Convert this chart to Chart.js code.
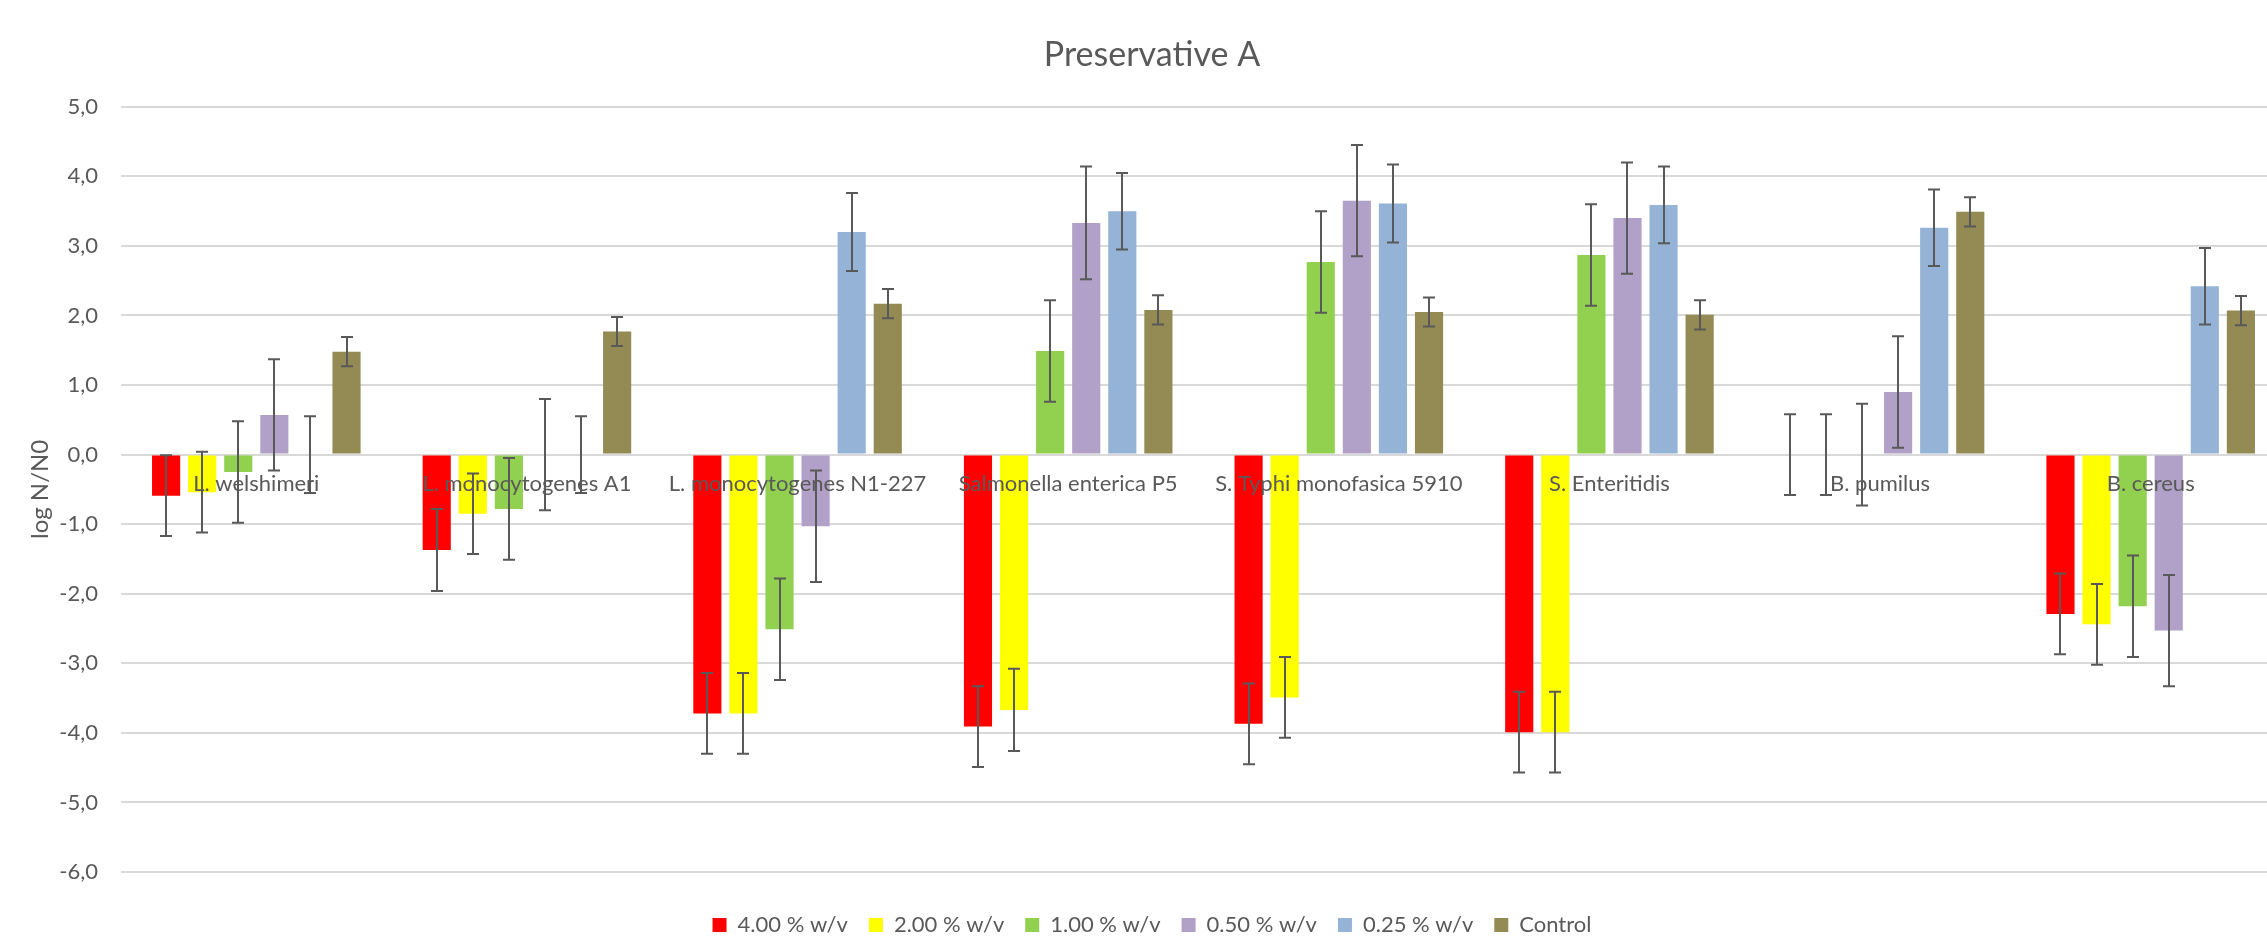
<!DOCTYPE html>
<html>
<head>
<meta charset="utf-8">
<script src="https://cdn.jsdelivr.net/npm/chart.js@4.4.1/dist/chart.umd.min.js"></script>
<style>
  html, body { margin: 0; padding: 0; background: #ffffff; overflow: hidden; }
  #wrap { width: 2286px; height: 946px; }
</style>
</head>
<body>
<div id="wrap"><canvas id="chart" width="2286" height="946"></canvas></div>
<script>
// Strains tested
const categories = [
  'L. welshimeri',
  'L. monocytogenes A1',
  'L. monocytogenes N1-227',
  'Salmonella enterica P5',
  'S. Typhi monofasica 5910',
  'S. Enteritidis',
  'B. pumilus',
  'B. cereus'
];

// Mean log N/N0 per concentration
const conc400 = [-0.59, -1.37, -3.72, -3.91, -3.87, -3.99, 0.00, -2.29];
const conc200 = [-0.54, -0.85, -3.72, -3.67, -3.49, -3.99, 0.00, -2.44];
const conc100 = [-0.25, -0.78, -2.51, 1.49, 2.77, 2.87, 0.00, -2.18];
const conc050 = [0.57, 0.00, -1.03, 3.33, 3.65, 3.40, 0.90, -2.53];
const conc025 = [0.00, 0.00, 3.20, 3.50, 3.61, 3.59, 3.26, 2.42];
const control = [1.48, 1.77, 2.17, 2.08, 2.05, 2.01, 3.49, 2.07];

// Standard deviations
const err400 = [0.58, 0.59, 0.58, 0.58, 0.58, 0.58, 0.58, 0.58];
const err200 = [0.58, 0.58, 0.58, 0.59, 0.58, 0.58, 0.58, 0.58];
const err100 = [0.73, 0.73, 0.73, 0.73, 0.73, 0.73, 0.73, 0.73];
const err050 = [0.80, 0.80, 0.80, 0.81, 0.80, 0.80, 0.80, 0.80];
const err025 = [0.55, 0.55, 0.56, 0.55, 0.56, 0.55, 0.55, 0.55];
const errCtl = [0.21, 0.21, 0.21, 0.21, 0.21, 0.21, 0.21, 0.21];

const seriesLabels = ['4.00 % w/v', '2.00 % w/v', '1.00 % w/v', '0.50 % w/v', '0.25 % w/v', 'Control'];
const seriesColors = ['#FF0000', '#FFFF00', '#92D050', '#B1A0C7', '#95B3D7', '#948A54'];
const seriesValues = [conc400, conc200, conc100, conc050, conc025, control];
const seriesErrors = [err400, err200, err100, err050, err025, errCtl];

const yTicksMin = -6;
const yTicksMax = 5;
const yTickStep = 1;

const FONT = 'Lato, "Open Sans", sans-serif';
const TEXT = '#595959';

// Error bars (mean ± SD) drawn through the value scale
const errorBars = {
  id: 'errorBars',
  afterDraw(chart) {
    const ctx = chart.ctx;
    const yScale = chart.scales.y;
    ctx.save();
    ctx.strokeStyle = '#595959';
    ctx.lineWidth = 2;
    chart.data.datasets.forEach((ds, i) => {
      const meta = chart.getDatasetMeta(i);
      meta.data.forEach((bar, j) => {
        const v = ds.data[j];
        const e = ds.errors[j];
        const x = Math.round(bar.x);
        const yTop = yScale.getPixelForValue(v + e);
        const yBot = yScale.getPixelForValue(v - e);
        const cap = 6;
        ctx.beginPath();
        ctx.moveTo(x, yTop);
        ctx.lineTo(x, yBot);
        ctx.moveTo(x - cap, yTop);
        ctx.lineTo(x + cap, yTop);
        ctx.moveTo(x - cap, yBot);
        ctx.lineTo(x + cap, yBot);
        ctx.stroke();
      });
    });
    ctx.restore();
  }
};

const datasets = seriesLabels.map((label, i) => ({
  label: label,
  data: seriesValues[i],
  errors: seriesErrors[i],
  backgroundColor: seriesColors[i],
  borderWidth: 0,
  categoryPercentage: 0.8,
  barPercentage: 0.78
}));

new Chart(document.getElementById('chart'), {
  type: 'bar',
  data: { labels: categories, datasets: datasets },
  plugins: [errorBars],
  options: {
    responsive: false,
    animation: false,
    layout: { padding: { left: 18, right: 0, top: 0, bottom: 0 } },
    plugins: {
      title: {
        display: true,
        text: 'Preservative A',
        color: TEXT,
        font: { family: FONT, size: 34, weight: 'normal', lineHeight: 1.2 },
        padding: { top: 35, bottom: 31 }
      },
      legend: {
        position: 'bottom',
        title: { display: true, text: '', font: { size: 21, lineHeight: 1 }, padding: 0 },
        labels: {
          color: TEXT,
          font: { family: FONT, size: 22 },
          boxWidth: 14,
          boxHeight: 14,
          padding: 21
        }
      },
      tooltip: { enabled: false }
    },
    scales: {
      x: {
        type: 'category',
        position: { y: 0 },
        grid: { display: false },
        border: { display: false },
        ticks: {
          color: TEXT,
          font: { family: FONT, size: 22 },
          padding: 8,
          maxRotation: 0,
          minRotation: 0,
          autoSkip: false,
          z: 1
        }
      },
      y: {
        min: yTicksMin,
        max: yTicksMax,
        afterFit(scale) { scale.width = 103; },
        grid: { color: '#D9D9D9', lineWidth: 2, drawTicks: false },
        border: { display: false },
        ticks: {
          stepSize: yTickStep,
          color: TEXT,
          font: { family: FONT, size: 22 },
          padding: 23,
          callback: (v) => v.toFixed(1).replace('.', ',')
        },
        title: {
          display: true,
          text: 'log N/N0',
          color: TEXT,
          font: { family: FONT, size: 24 },
          padding: { top: 8, bottom: 0 }
        }
      }
    }
  }
});
</script>
</body>
</html>
